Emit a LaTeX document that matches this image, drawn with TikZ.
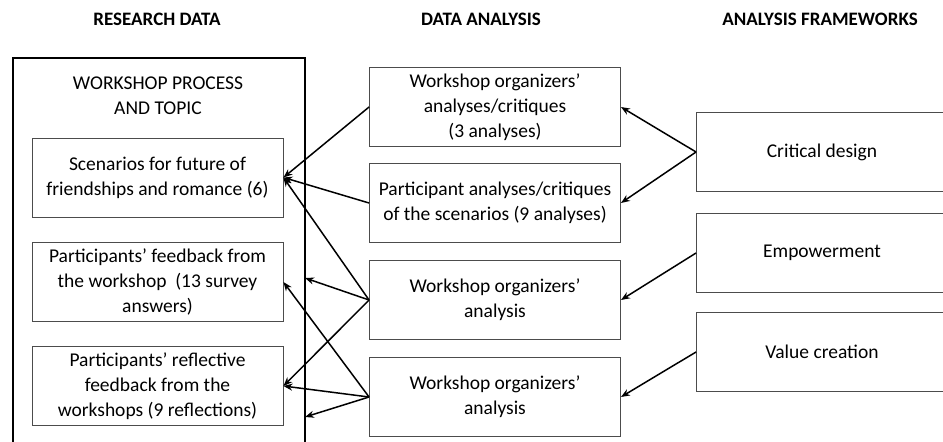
\documentclass[tikz,border=0pt]{standalone}
\usepackage{fontspec}
\setmainfont{Carlito}
\usetikzlibrary{arrows.meta}
\tikzstyle{databox}=[draw=black!70,line width=0.9pt,minimum width=251pt,minimum height=79pt,align=center,inner sep=2pt,font=\fontsize{19.5}{25}\selectfont]
\tikzstyle{colhead}=[font=\fontsize{19}{22}\selectfont\bfseries]
\tikzstyle{link}=[-{Stealth[length=9pt,width=7pt]},line width=1.5pt]
\begin{document}
\begin{tikzpicture}[x=1pt,y=-1pt]
	\useasboundingbox (0,0) rectangle (943,442);
	\clip (0,0) rectangle (943,442);
	% column headings
	\node[colhead] (hdata) at (157,19) {RESEARCH DATA};
	\node[colhead] (hanalysis) at (481,19) {DATA ANALYSIS};
	\node[colhead] (hframe) at (820,19) {ANALYSIS FRAMEWORKS};
	% research data, runs off the bottom
	\node[draw,line width=2.4pt,minimum width=292pt,minimum height=420pt,anchor=north west] (proc) at (12,57) {};
	\node[align=center,font=\fontsize{19.5}{25}\selectfont] (proctitle) at (158,96) {WORKSHOP PROCESS\\AND TOPIC};
	\node[databox] (scen) at (157.5,177.5) {Scenarios for future of\\friendships and romance (6)};
	\node[databox] (feed) at (157.5,282) {Participants’ feedback from\\the workshop~ (13 survey\\answers)};
	\node[databox] (refl) at (157.5,386) {Participants’ reflective\\feedback from the\\workshops (9 reflections)};
	% data analysis
	\node[databox] (orgcrit) at (495,107) {Workshop organizers’\\analyses/critiques\\(3 analyses)};
	\node[databox] (partcrit) at (495,203) {Participant analyses/critiques\\of the scenarios (9 analyses)};
	\node[databox] (orgfeed) at (495,300) {Workshop organizers’\\analysis};
	\node[databox] (orgrefl) at (495,397) {Workshop organizers’\\analysis};
	% frameworks, cut at the right edge
	\node[databox] (critical) at (822,152) {Critical design};
	\node[databox] (empower) at (822,253) {Empowerment};
	\node[databox] (value) at (822,352) {Value creation};
	% arrows ending on the outer frame
	\coordinate (edgefeed) at (305,278);
	\coordinate (edgerefl) at (305,417);
	\foreach \src/\dst in {orgcrit/scen.east,partcrit/scen.east,orgfeed/scen.east,orgfeed/edgefeed,orgfeed/refl.east,orgrefl/feed.east,orgrefl/refl.east,orgrefl/edgerefl}
		\draw[link] (\src.west) -- (\dst);
	\foreach \src/\dst in {critical/orgcrit,critical/partcrit,empower/orgfeed,value/orgrefl}
		\draw[link] (\src.west) -- (\dst.east);
\end{tikzpicture}
\end{document}
